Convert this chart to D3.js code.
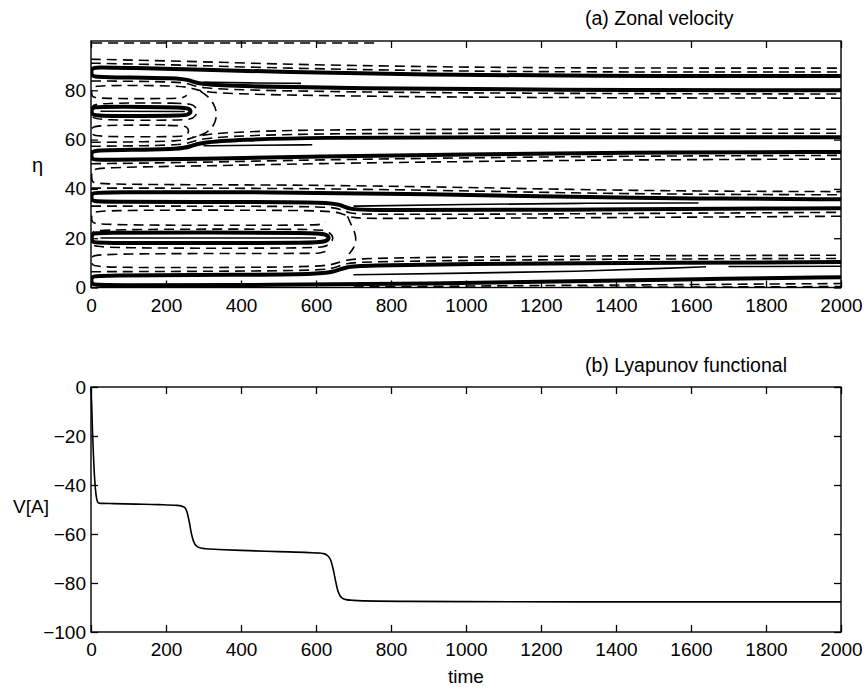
<!DOCTYPE html>
<html>
<head>
<meta charset="utf-8">
<script src="https://cdnjs.cloudflare.com/ajax/libs/d3/7.8.5/d3.min.js"></script>
<style>
  body { margin: 0; background: #fff; }
  svg text { font-family: "Liberation Sans", Arial, Helvetica, sans-serif; fill: #000; }
</style>
</head>
<body>
<div id="chart"></div>
<script>
// ---- data ----
var timeTicks = [0, 200, 400, 600, 800, 1000, 1200, 1400, 1600, 1800, 2000];
var etaTicks = [0, 20, 40, 60, 80];
var vTicks = [0, -20, -40, -60, -80, -100];

// (a) zonal velocity contours, points are [time, eta]
// thick solid contours (jet edges), open at the right edge
var jetContours = [
  [[2000,85.8],[1300,85.8],[900,86.3],[500,87.4],[300,88.4],[100,89.1],[12,89.4],[3,88.9],[0,87.4],[3,85.8],[12,85.3],[240,85.0],[265,84.0],[290,82.4],[400,81.6],[700,80.8],[1200,80.2],[2000,80.0]],
  [[2000,61],[1000,61],[600,60.8],[400,60.0],[290,58.8],[265,57.2],[240,56.2],[100,55.8],[12,55.7],[3,55.1],[0,53.6],[3,52.1],[12,51.6],[300,52.2],[600,53.2],[1000,54],[1400,54.7],[2000,55]],
  [[2000,35.8],[1600,36.1],[1300,36.7],[900,37.9],[500,38.7],[12,38.7],[3,38.1],[0,36.7],[3,35.3],[12,34.7],[400,34.7],[640,34.5],[665,33.5],[690,31.8],[720,31.3],[1200,31.5],[2000,32.2]],
  [[2000,10.3],[1400,10.0],[1000,9.5],[720,8.9],[680,8.3],[650,6.5],[620,5.5],[400,5.1],[12,4.9],[3,4.3],[0,2.9],[3,1.4],[12,0.8],[500,1.0],[900,1.6],[1300,2.5],[1600,3.4],[2000,4.2]]
];
// thick solid closed contours (jets that die out)
var jetLoops = [
  [[12,73.3],[140,73.3],[245,73.1],[260,72.7],[268,71.5],[260,70.1],[245,69.7],[140,69.6],[12,69.6],[3,70.2],[1,71.5],[3,72.8]],
  [[12,22.3],[300,22.3],[600,22.2],[625,21.7],[638,20.1],[625,18.6],[600,18.1],[300,18.0],[12,18.0],[3,18.6],[1,20.1],[3,21.7]]
];
// thin solid contours inside the jets
var thinContours = [
  [[300,83.3],[420,83.0],[560,82.8]],
  [[25,71.5],[250,71.4]],
  [[300,57.5],[450,57.7],[590,57.9]],
  [[700,33.0],[1000,33.7],[1300,34.2],[1620,34.3]],
  [[25,20.1],[600,20.1]],
  [[700,5.2],[1000,5.8],[1300,6.5],[1550,7.9],[1640,8.4]],
  [[1700,8.5],[2000,8.6]]
];
// dashed (negative) contours, open
var dashedContours = [
  [[3,99.2],[760,99.2]],
  [[0,91.0],[100,90.7],[300,90.0],[500,89.0],[900,87.9],[1300,87.4],[2000,87.4]],
  [[0,92.6],[100,92.3],[300,91.6],[500,90.6],[900,89.5],[1300,89.0],[2000,89.0]],
  [[0,83.8],[240,83.5],[265,82.5],[290,80.9],[400,80.1],[700,79.3],[1200,78.7],[2000,78.5]],
  [[2000,76.8],[1200,77.0],[700,77.6],[400,78.4],[300,79.3],[270,80.8],[240,81.9],[12,82.1],[3,81.0],[1,79.2],[3,77.4],[12,76.6],[230,76.6],[248,77.1],[255,78.0]],
  [[292,79.6],[312,77.6],[328,74.5],[336,71.0],[332,67.0],[318,63.8],[296,61.9],[270,60.9]],
  [[0,57.3],[100,57.4],[240,57.8],[265,58.8],[290,60.4],[400,61.6],[600,62.4],[1000,62.6],[2000,62.6]],
  [[0,58.9],[100,59.0],[240,59.4],[265,60.4],[290,62.0],[400,63.2],[600,64.0],[1000,64.2],[2000,64.2]],
  [[0,50.2],[300,50.8],[600,51.8],[1000,52.6],[1400,53.3],[2000,53.6]],
  [[2000,52.1],[1400,51.8],[1000,51.1],[600,50.3],[300,49.3],[12,48.7],[3,47.4],[1,45.2],[3,42.9],[12,41.7],[500,41.7],[900,40.9],[1300,39.7],[1600,39.1],[2000,38.9]],
  [[0,40.3],[500,40.3],[900,39.5],[1300,38.3],[1600,37.8],[2000,37.6]],
  [[0,33.0],[400,33.0],[640,32.8],[665,31.8],[690,30.1],[720,29.6],[1200,29.8],[2000,30.5]],
  [[2000,28.9],[1200,28.2],[720,27.9],[695,28.4],[668,30.0],[640,31.2],[400,31.4],[12,31.4],[3,30.1],[1,28.3],[3,26.5],[12,25.2],[590,25.2],[615,25.6],[625,26.5]],
  [[684,28.9],[694,25.4],[706,21.5],[707,18.3],[699,15.6],[688,13.6]],
  [[625,14.6],[610,13.9],[590,13.8],[12,13.8],[3,12.5],[1,10.9],[3,9.3],[12,8.0],[400,8.1],[620,8.5],[650,9.6],[680,11.2],[720,11.8],[1000,12.4],[1400,12.9],[2000,13.1]],
  [[0,6.4],[400,6.6],[620,7.0],[650,8.0],[680,9.8],[720,10.4],[1000,11.0],[1400,11.5],[2000,11.8]],
  [[700,0.2],[1000,0.6],[1400,1.0],[2000,1.6]],
  [[1300,0.1],[1700,0.2],[2000,0.4]]
];
// dashed closed contours
var dashedLoops = [
  [[12,74.9],[250,74.9],[275,74.2],[286,71.5],[275,68.5],[250,67.8],[12,67.8],[3,69.3],[1,71.5],[3,73.5]],
  [[12,65.9],[240,65.9],[256,65.2],[262,63.5],[256,61.8],[240,61.1],[12,61.1],[3,62.2],[1,63.5],[3,64.8]],
  [[12,23.7],[600,23.7],[630,23.2],[652,20.1],[630,16.6],[600,15.9],[12,15.9],[3,17.3],[1,20.0],[3,22.4]]
];

// (b) Lyapunov functional
var lyapTime  = [0, 2, 4, 6, 8, 10, 12, 15, 18, 22, 30, 60, 120, 180, 230, 248, 256, 262, 268, 274, 282, 292, 305, 340, 400, 500, 580, 620, 632, 640, 646, 652, 658, 664, 670, 680, 700, 760, 850, 1000, 1300, 1600, 2000];
var lyapValue = [0, -8, -18, -26, -33, -38, -42, -45.5, -47, -47.4, -47.5, -47.6, -47.8, -48.0, -48.3, -49.0, -51, -55, -60, -63.2, -65, -65.7, -66, -66.3, -66.7, -67.2, -67.6, -68, -69, -71, -74.5, -79, -83, -85.2, -86.2, -86.8, -87.1, -87.4, -87.5, -87.6, -87.7, -87.7, -87.7];

// ---- layout ----
var width = 867, height = 690;
var left = 91, right = 841;
var topA = 41, bottomA = 287.5;
var topB = 387, bottomB = 632;
var fontSize = 19;

var svg = d3.select("#chart").append("svg")
  .attr("width", width)
  .attr("height", height);

var x = d3.scaleLinear().domain([0, 2000]).range([left, right]);
var yA = d3.scaleLinear().domain([0, 100]).range([bottomA, topA]);
var yB = d3.scaleLinear().domain([-100, 0]).range([bottomB, topB]);

//draw the four sided box with inward ticks like matlab
function drawFrame(y, yTicks, top, bottom) {
  var g = svg.append("g");
  var xb = g.append("g").attr("transform", "translate(0," + bottom + ")")
    .call(d3.axisBottom(x).tickValues(timeTicks).tickSizeInner(-7).tickSizeOuter(0).tickFormat(d3.format("d")));
  xb.selectAll(".tick text").attr("y", 24).attr("dy", 0);
  g.append("g").attr("transform", "translate(0," + top + ")")
    .call(d3.axisTop(x).tickValues(timeTicks).tickSizeInner(-7).tickSizeOuter(0).tickFormat(""));
  g.append("g").attr("transform", "translate(" + left + ",0)")
    .call(d3.axisLeft(y).tickValues(yTicks).tickSizeInner(-7).tickSizeOuter(0).tickPadding(5));
  g.append("g").attr("transform", "translate(" + right + ",0)")
    .call(d3.axisRight(y).tickValues(yTicks).tickSizeInner(-7).tickSizeOuter(0).tickFormat(""));
  g.selectAll(".domain").remove();
  g.selectAll(".tick line").attr("stroke", "#000").attr("stroke-width", 1.3);
  g.selectAll(".tick text").attr("font-size", fontSize).attr("font-family", "Liberation Sans, Arial, sans-serif");
  g.append("rect")
    .attr("x", left).attr("y", top)
    .attr("width", right - left).attr("height", bottom - top)
    .attr("fill", "none").attr("stroke", "#000").attr("stroke-width", 1.4);
}

// ---- panel (a) ----
svg.append("clipPath").attr("id", "clipA")
  .append("rect").attr("x", left).attr("y", topA).attr("width", right - left).attr("height", bottomA - topA);

var contourLine = d3.line()
  .x(function (d) { return x(d[0]); })
  .y(function (d) { return yA(d[1]); })
  .curve(d3.curveBasis);
var contourLoop = d3.line()
  .x(function (d) { return x(d[0]); })
  .y(function (d) { return yA(d[1]); })
  .curve(d3.curveBasisClosed);

var cg = svg.append("g").attr("clip-path", "url(#clipA)").attr("fill", "none").attr("stroke", "#000");

cg.selectAll(".dash").data(dashedContours).enter().append("path")
  .attr("d", contourLine)
  .attr("stroke-width", 1.6)
  .attr("stroke-dasharray", "10,6");
cg.selectAll(".dashLoop").data(dashedLoops).enter().append("path")
  .attr("d", contourLoop)
  .attr("stroke-width", 1.6)
  .attr("stroke-dasharray", "10,6");
cg.selectAll(".thin").data(thinContours).enter().append("path")
  .attr("d", contourLine)
  .attr("stroke-width", 1.6);
cg.selectAll(".jet").data(jetContours).enter().append("path")
  .attr("d", contourLine)
  .attr("stroke-width", 4);
cg.selectAll(".jetLoop").data(jetLoops).enter().append("path")
  .attr("d", contourLoop)
  .attr("stroke-width", 4);

drawFrame(yA, etaTicks, topA, bottomA);

svg.append("text").attr("x", 585).attr("y", 25)
  .attr("font-size", fontSize + 0.5).text("(a) Zonal velocity");
svg.append("text").attr("x", 37.5).attr("y", 172)
  .attr("text-anchor", "middle").attr("font-size", fontSize + 1).text("η");

// ---- panel (b) ----
var lyap = lyapTime.map(function (t, i) { return [t, lyapValue[i]]; });
var vLine = d3.line()
  .x(function (d) { return x(d[0]); })
  .y(function (d) { return yB(d[1]); })
  .curve(d3.curveMonotoneX);

svg.append("path")
  .datum(lyap)
  .attr("d", vLine)
  .attr("fill", "none")
  .attr("stroke", "#000")
  .attr("stroke-width", 1.6);

drawFrame(yB, vTicks, topB, bottomB);

svg.append("text").attr("x", 585).attr("y", 372)
  .attr("font-size", fontSize + 0.5).text("(b) Lyapunov functional");
svg.append("text").attr("x", 31).attr("y", 513)
  .attr("text-anchor", "middle").attr("font-size", fontSize).text("V[A]");
svg.append("text").attr("x", (left + right) / 2).attr("y", 683)
  .attr("text-anchor", "middle").attr("font-size", fontSize).text("time");
</script>
</body>
</html>
